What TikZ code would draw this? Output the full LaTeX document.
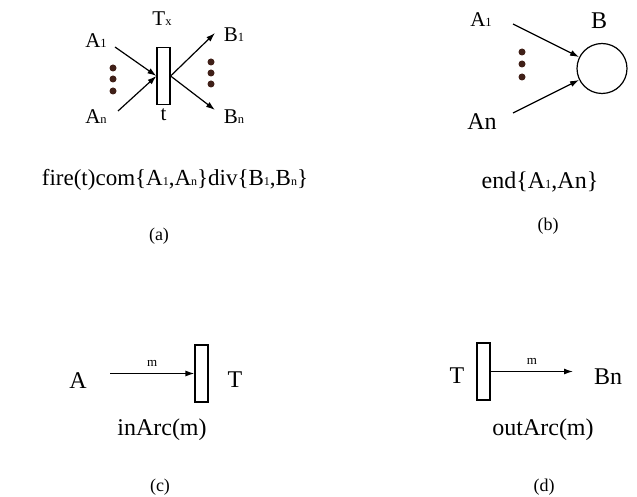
\documentclass[tikz,border=0pt]{standalone}
\usepackage{fontspec}
\setmainfont{Liberation Serif}
\usetikzlibrary{arrows.meta}
\definecolor{dotc}{RGB}{64,32,24}
\newcommand\smsub[1]{{\fontsize{12.5}{12.5}\selectfont #1}}
\newcommand\tinysub[1]{{\fontsize{12}{12}\selectfont #1}}
\begin{document}
\begin{tikzpicture}[x=1pt,y=-1pt,
  lbl/.style={inner sep=0pt,font=\fontsize{21}{21}\selectfont},
  big/.style={inner sep=0pt,font=\fontsize{24}{24}\selectfont},
  firetxt/.style={inner sep=0pt,font=\fontsize{23}{23}\selectfont},
  captxt/.style={inner sep=0pt,font=\fontsize{18}{18}\selectfont},
  arclbl/.style={inner sep=0pt,font=\fontsize{13}{13}\selectfont},
  trans/.style={draw,line width=1.2pt,minimum width=13pt,minimum height=57pt,inner sep=0pt},
  place/.style={draw,circle,line width=1.2pt,minimum size=50pt,inner sep=0pt},
  vdot/.style={circle,fill=dotc,inner sep=0pt,minimum size=7pt},
  arr/.style={line width=1.2pt,-{Latex[length=9pt,width=6pt]}}]
\useasboundingbox (0,0) rectangle (637,497);

% ---------- (a)
\node[trans] (ta) at (163.5,76) {};
\node[lbl] (tx) at (162,19) {T\smsub{x}};
\node[lbl] (a1) at (96,41) {A\smsub{1}};
\node[lbl] (an) at (96,117) {A\smsub{n}};
\node[lbl] (b1) at (234,35) {B\smsub{1}};
\node[lbl] (bn) at (234,117) {B\smsub{n}};
\node[lbl] (tl) at (163.5,115) {t};
\coordinate (a1s) at (115,47);
\coordinate (ans) at (118,111);
\coordinate (b1e) at (215,33);
\coordinate (bne) at (215,110);
\draw[arr] (a1s) -- (ta.west);
\draw[arr] (ans) -- (ta.west);
\draw[arr] (ta.east) -- (b1e);
\draw[arr] (ta.east) -- (bne);
\node[vdot] (la1) at (113,68) {};
\node[vdot] (la2) at (113,79) {};
\node[vdot] (la3) at (113,91) {};
\node[vdot] (ra1) at (211,62) {};
\node[vdot] (ra2) at (211,73) {};
\node[vdot] (ra3) at (211,84) {};
\node[firetxt] (fire) at (175,180) {fire(t)com\{A\tinysub{1},A\tinysub{n}\}div\{B\tinysub{1},B\tinysub{n}\}};
\node[captxt] (capa) at (159,236) {(a)};

% ---------- (b)
\node[place] (pB) at (602,68.5) {};
\node[lbl] (ba1) at (481,20) {A\smsub{1}};
\node[big] (bB) at (599,21) {B};
\node[big] (ban) at (482,122) {An};
\coordinate (ba1s) at (513,24);
\coordinate (bans) at (513,113);
\draw[arr] (ba1s) -- (pB);
\draw[arr] (bans) -- (pB);
\node[vdot] (bd1) at (522,52) {};
\node[vdot] (bd2) at (522,64) {};
\node[vdot] (bd3) at (522,77) {};
\node[big] (endt) at (540,182) {end\{A\smsub{1},An\}};
\node[captxt] (capb) at (548,226) {(b)};

% ---------- (c)
\node[trans] (tc) at (201.5,373.5) {};
\node[big] (cA) at (78,380.5) {A};
\node[big] (cT) at (235,379.5) {T};
\coordinate (cas) at (110,373.5);
\draw[arr] (cas) -- node[arclbl,above=6pt] (cm) {m} (tc.west);
\node[big] (inarc) at (162,430) {inArc(m)};
\node[captxt] (capc) at (160,487) {(c)};

% ---------- (d)
\node[trans] (td) at (483.5,371.5) {};
\node[big] (dT) at (457,376) {T};
\node[big] (dBn) at (608,377) {Bn};
\coordinate (dbe) at (573,371.5);
\draw[arr] (td.east) -- node[arclbl,above=6pt] (dm) {m} (dbe);
\node[big] (outarc) at (543,430) {outArc(m)};
\node[captxt] (capd) at (544,487) {(d)};
\end{tikzpicture}
\end{document}
